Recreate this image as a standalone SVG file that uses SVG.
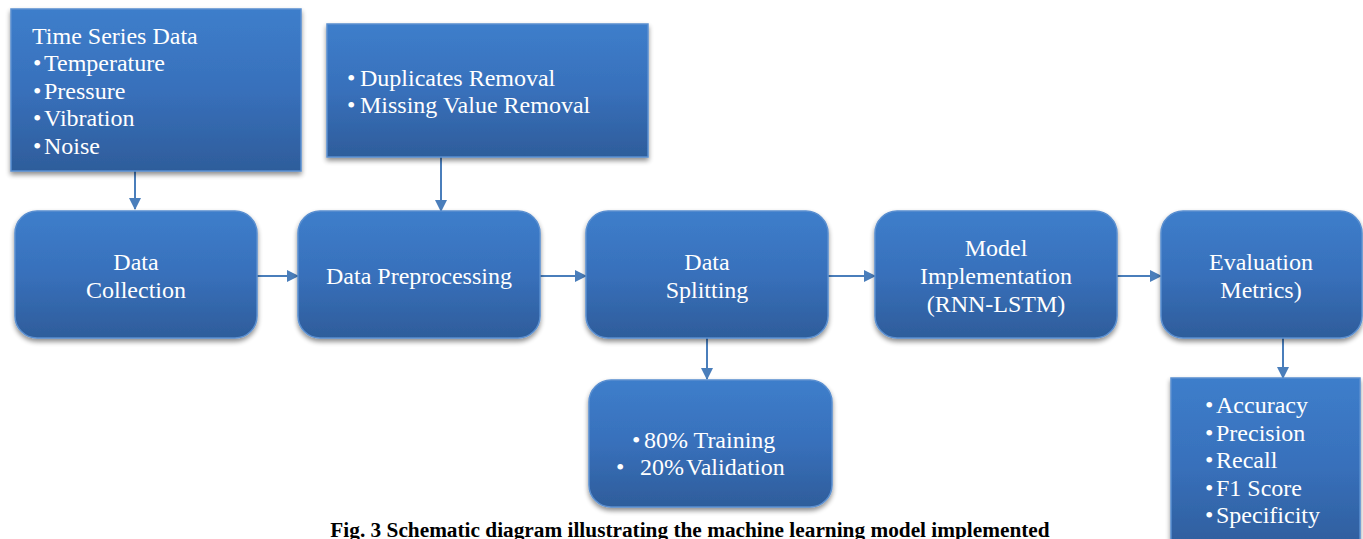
<svg xmlns="http://www.w3.org/2000/svg" width="1363" height="539" viewBox="0 0 1363 539">
  <defs>
    <linearGradient id="blueFill" x1="0" y1="0" x2="0" y2="1">
      <stop offset="0" stop-color="#3d7ecb"/>
      <stop offset="0.5" stop-color="#3870bb"/>
      <stop offset="1" stop-color="#2e5d9b"/>
    </linearGradient>
    <filter id="shadow" x="-10%" y="-10%" width="120%" height="130%">
      <feGaussianBlur in="SourceAlpha" stdDeviation="2.5"/>
      <feOffset dx="0" dy="3" result="blur"/>
      <feComponentTransfer><feFuncA type="linear" slope="0.45"/></feComponentTransfer>
      <feMerge><feMergeNode/><feMergeNode in="SourceGraphic"/></feMerge>
    </filter>
    <marker id="arrow" viewBox="0 0 12 12" refX="11" refY="6" markerWidth="12" markerHeight="12" markerUnits="userSpaceOnUse" orient="auto">
      <path d="M0,0 L12,6 L0,12 Z" fill="#4a7ebb"/>
    </marker>
  </defs>
  <style>
    .box { fill: url(#blueFill); stroke: #5a8fd0; stroke-width: 1.5; filter: url(#shadow); }
    .t { font-family: "Liberation Serif", "Times New Roman", serif; font-size: 24px; fill: #ffffff; }
    .c { text-anchor: middle; }
    .conn { stroke: #4a7ebb; stroke-width: 2; fill: none; marker-end: url(#arrow); }
    .cap { font-family: "Liberation Serif", "Times New Roman", serif; font-size: 21.3px; font-weight: bold; fill: #000000; text-anchor: middle; }
  </style>

  <g id="connectors">
    <line class="conn" x1="135" y1="171" x2="135" y2="209"/>
    <line class="conn" x1="441" y1="157" x2="441" y2="211"/>
    <line class="conn" x1="257" y1="276" x2="298" y2="276"/>
    <line class="conn" x1="540" y1="276" x2="586" y2="276"/>
    <line class="conn" x1="828" y1="276" x2="875" y2="276"/>
    <line class="conn" x1="1117" y1="276" x2="1161" y2="276"/>
    <line class="conn" x1="707" y1="338" x2="707" y2="379"/>
    <line class="conn" x1="1283" y1="338" x2="1283" y2="378"/>
  </g>

  <g id="time-series">
    <rect class="box" x="11" y="9" width="290" height="162"/>
    <text class="t" x="32" y="44">Time Series Data</text>
    <text class="t" x="33" y="71">•<tspan x="44">Temperature</tspan></text>
    <text class="t" x="33" y="99">•<tspan x="44">Pressure</tspan></text>
    <text class="t" x="33" y="126">•<tspan x="44">Vibration</tspan></text>
    <text class="t" x="33" y="154">•<tspan x="44">Noise</tspan></text>
  </g>

  <g id="cleaning">
    <rect class="box" x="327" y="24" width="321" height="133"/>
    <text class="t" x="347" y="86">•<tspan x="360">Duplicates Removal</tspan></text>
    <text class="t" x="347" y="113">•<tspan x="360">Missing Value Removal</tspan></text>
  </g>

  <g id="data-collection">
    <rect class="box" x="15" y="211" width="242" height="127" rx="22"/>
    <text class="t c" x="136" y="270">Data</text>
    <text class="t c" x="136" y="298">Collection</text>
  </g>

  <g id="data-preprocessing">
    <rect class="box" x="298" y="211" width="242" height="127" rx="22"/>
    <text class="t c" x="419" y="284">Data Preprocessing</text>
  </g>

  <g id="data-splitting">
    <rect class="box" x="586" y="211" width="242" height="127" rx="22"/>
    <text class="t c" x="707" y="270">Data</text>
    <text class="t c" x="707" y="298">Splitting</text>
  </g>

  <g id="model">
    <rect class="box" x="875" y="211" width="242" height="127" rx="22"/>
    <text class="t c" x="996" y="256">Model</text>
    <text class="t c" x="996" y="284">Implementation</text>
    <text class="t c" x="996" y="312">(RNN-LSTM)</text>
  </g>

  <g id="evaluation">
    <rect class="box" x="1161" y="211" width="201" height="127" rx="22"/>
    <text class="t c" x="1261" y="270">Evaluation</text>
    <text class="t c" x="1261" y="298">Metrics)</text>
  </g>

  <g id="split-ratio">
    <rect class="box" x="589" y="380" width="243" height="127" rx="22"/>
    <text class="t" x="632" y="448">•<tspan x="644">80%  Training</tspan></text>
    <text class="t" x="616" y="475">•<tspan x="640">20%<tspan dx="2">Validation</tspan></tspan></text>
  </g>

  <g id="metrics">
    <rect class="box" x="1171" y="378" width="189" height="175"/>
    <text class="t" x="1205" y="413">•<tspan x="1216">Accuracy</tspan></text>
    <text class="t" x="1205" y="441">•<tspan x="1216">Precision</tspan></text>
    <text class="t" x="1205" y="468">•<tspan x="1216">Recall</tspan></text>
    <text class="t" x="1205" y="496">•<tspan x="1216">F1 Score</tspan></text>
    <text class="t" x="1205" y="523">•<tspan x="1216">Specificity</tspan></text>
  </g>

  <text class="cap" x="690" y="537">Fig. 3 Schematic diagram illustrating the machine learning model implemented</text>
</svg>
